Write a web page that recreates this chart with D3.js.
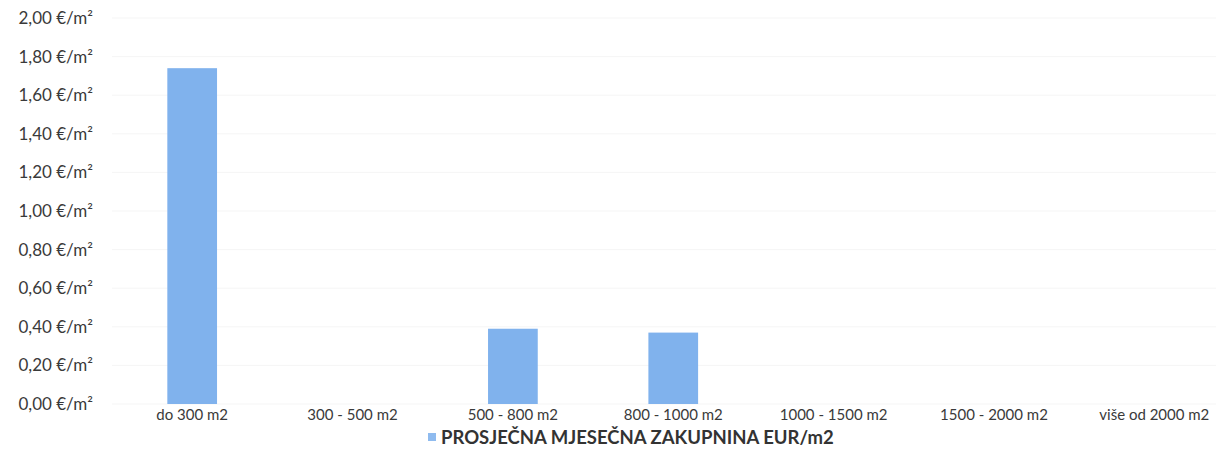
<!DOCTYPE html>
<html>
<head>
<meta charset="utf-8">
<script src="https://cdn.jsdelivr.net/npm/d3@7"></script>
<style>
  html, body { margin: 0; padding: 0; background: #ffffff; }
  svg { display: block; }
</style>
</head>
<body>
<svg id="chart" width="1216" height="454"></svg>
<script>
const categories = ["do 300 m2", "300 - 500 m2", "500 - 800 m2", "800 - 1000 m2", "1000 - 1500 m2", "1500 - 2000 m2", "više od 2000 m2"];
const values = [1.74, 0, 0.39, 0.37, 0, 0, 0];
const yTicks = [0, 0.2, 0.4, 0.6, 0.8, 1.0, 1.2, 1.4, 1.6, 1.8, 2.0];
const seriesName = "PROSJEČNA MJESEČNA ZAKUPNINA EUR/m2";

const svg = d3.select("#chart");
const font = "Lato, 'Open Sans', sans-serif";

const x = d3.scaleBand().domain(categories).range([112, 1234.5]).paddingInner(0.69).paddingOuter(0.345);
const y = d3.scaleLinear().domain([0, 2]).range([404, 18]);

// gridlines
svg.append("g").selectAll("line").data(yTicks).join("line")
  .attr("x1", 112).attr("x2", 1216)
  .attr("y1", d => y(d)).attr("y2", d => y(d))
  .attr("stroke", "#f5f5f5").attr("stroke-width", 1);

// y axis
const fmt = d => d.toFixed(2).replace(".", ",") + " €/m²";
const yAxis = d3.axisLeft(y).tickValues(yTicks).tickFormat(fmt).tickSize(0).tickPadding(0);
const gy = svg.append("g").attr("transform", "translate(93,0)").call(yAxis);
gy.select(".domain").remove();
gy.selectAll("text").attr("font-family", font).attr("font-size", 17).attr("fill", "#3a3a3a");

// bars
svg.append("g").selectAll("rect").data(categories).join("rect")
  .attr("x", d => x(d))
  .attr("width", x.bandwidth())
  .attr("y", (d, i) => y(values[i]))
  .attr("height", (d, i) => y(0) - y(values[i]))
  .attr("fill", "#80b2ed");

// x axis
const xAxis = d3.axisBottom(x).tickSize(0).tickPadding(5);
const gx = svg.append("g").attr("transform", "translate(0,404)").call(xAxis);
gx.select(".domain").remove();
gx.selectAll("text").attr("font-family", font).attr("font-size", 15).attr("fill", "#3a3a3a");

// legend
const lg = svg.append("g");
lg.append("rect").attr("x", 428).attr("y", 433).attr("width", 8).attr("height", 8).attr("fill", "#8fbbef");
lg.append("text").attr("x", 441).attr("y", 444).text(seriesName)
  .attr("font-family", font).attr("font-size", 18.5).attr("font-weight", "bold").attr("fill", "#333333");
</script>
</body>
</html>
